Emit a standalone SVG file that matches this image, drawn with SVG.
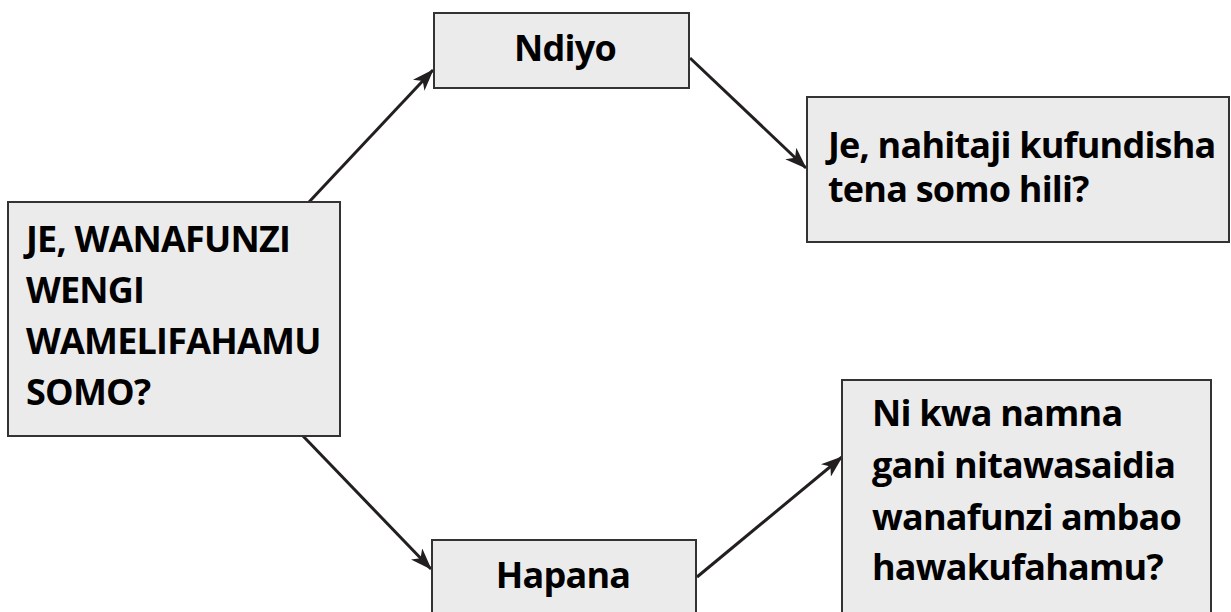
<svg xmlns="http://www.w3.org/2000/svg" width="1231" height="612" viewBox="0 0 1231 612">
<style>
.box{fill:#ebebeb;stroke:#333;stroke-width:2}
.t{font-family:"Open Sans","Liberation Sans",sans-serif;font-weight:700;font-size:36px;letter-spacing:-0.8px;fill:#000}
.c{stroke:#231f20;stroke-width:3;fill:none}
</style>
<defs>
<marker id="ah" viewBox="0 0 22 16" refX="21" refY="8" markerWidth="22" markerHeight="16" markerUnits="userSpaceOnUse" orient="auto">
<path d="M0,0 L22,8 L0,16 L6,8 Z" fill="#231f20"/>
</marker>
</defs>
<rect width="1231" height="612" fill="#fff"/>
<g id="connectors">
<line class="c" x1="309" y1="202" x2="433" y2="70" marker-end="url(#ah)"/>
<line class="c" x1="690" y1="58" x2="806" y2="168" marker-end="url(#ah)"/>
<line class="c" x1="303" y1="436" x2="431" y2="569" marker-end="url(#ah)"/>
<line class="c" x1="697" y1="577" x2="842" y2="457" marker-end="url(#ah)"/>
</g>
<g id="node-question">
<rect class="box" x="8" y="202" width="332" height="234"/>
<text class="t" x="26" y="252">JE, WANAFUNZI</text>
<text class="t" x="26" y="303">WENGI</text>
<text class="t" x="26" y="354">WAMELIFAHAMU</text>
<text class="t" x="26" y="405">SOMO?</text>
</g>
<g id="node-ndiyo">
<rect class="box" x="434" y="13" width="255" height="75"/>
<text class="t" x="565" y="61" text-anchor="middle">Ndiyo</text>
</g>
<g id="node-fundisha">
<rect class="box" x="807" y="97" width="422" height="145"/>
<text class="t" x="828" y="158">Je, nahitaji kufundisha</text>
<text class="t" x="828" y="202">tena somo hili?</text>
</g>
<g id="node-hapana">
<rect class="box" x="432" y="540" width="264" height="80"/>
<text class="t" x="563" y="588" text-anchor="middle">Hapana</text>
</g>
<g id="node-saidia">
<rect class="box" x="842" y="380" width="369" height="240"/>
<text class="t" x="872" y="426">Ni kwa namna</text>
<text class="t" x="872" y="478">gani nitawasaidia</text>
<text class="t" x="872" y="530">wanafunzi ambao</text>
<text class="t" x="872" y="580">hawakufahamu?</text>
</g>
</svg>
